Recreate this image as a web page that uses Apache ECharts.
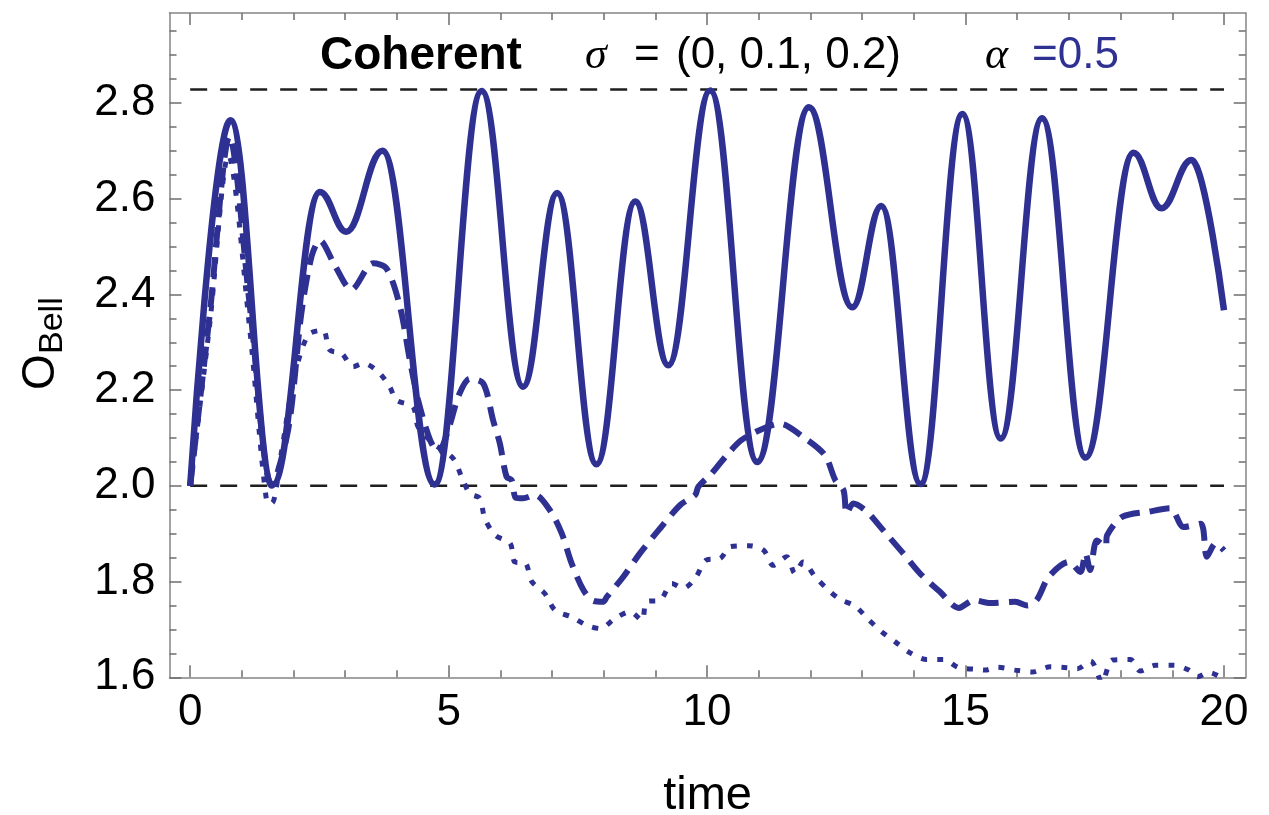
<!DOCTYPE html>
<html><head><meta charset="utf-8">
<script src="https://cdn.jsdelivr.net/npm/echarts@6/dist/echarts.min.js"></script>
<style>html,body{margin:0;padding:0;background:#fff}#c{width:1269px;height:815px}</style>
</head><body><div id="c"></div>
<script>
// ---- data ----
// sigma = 0 : turning points of the solid curve
const tSolid = [0,0.78,1.60,2.51,3.02,3.72,4.73,5.64,6.44,7.10,7.86,8.61,9.25,10.06,10.97,11.97,12.81,13.37,14.13,14.94,15.68,16.48,17.32,18.25,18.79,19.37,20.0];
const vSolid = [2.0,2.764,2.003,2.614,2.531,2.700,2.003,2.825,2.207,2.612,2.045,2.594,2.252,2.826,2.050,2.791,2.373,2.585,2.004,2.777,2.099,2.768,2.059,2.696,2.58,2.681,2.367];

// sigma = 0.1 : dashed curve
const tDash = [0,0.38,0.76,1.17,1.58,1.90,2.15,2.35,2.51,2.80,3.12,3.54,3.80,4.06,4.25,4.41,4.64,4.80,5.00,5.20,5.41,5.67,5.86,5.99,6.12,6.22,6.30,6.44,6.67,6.96,7.19,7.38,7.61,7.80,7.99,8.06,8.38,8.70,9.09,9.48,9.77,9.83,10.09,10.38,10.67,11.09,11.41,11.86,12.28,12.48,12.64,12.70,12.83,13.09,13.41,13.77,14.12,14.51,14.87,15.16,15.48,15.96,16.20,16.38,16.61,17.00,17.22,17.32,17.41,17.54,17.71,17.74,18.03,18.54,18.96,19.22,19.55,19.67,19.84,20.0];
const vDash = [2.0,2.36,2.73,2.36,2.0,2.12,2.36,2.48,2.513,2.46,2.41,2.465,2.454,2.374,2.263,2.179,2.096,2.07,2.12,2.19,2.224,2.214,2.137,2.089,2.019,2.012,1.975,1.974,1.981,1.949,1.90,1.838,1.782,1.76,1.758,1.768,1.81,1.859,1.911,1.96,1.981,1.998,2.026,2.064,2.096,2.12,2.13,2.102,2.064,2.012,1.991,1.942,1.963,1.946,1.907,1.862,1.817,1.778,1.745,1.761,1.755,1.758,1.75,1.762,1.81,1.841,1.82,1.859,1.824,1.886,1.873,1.897,1.935,1.946,1.953,1.914,1.921,1.852,1.88,1.865];

// sigma = 0.2 : dotted curve
const tDot = [0,0.38,0.74,1.15,1.48,1.58,1.75,2.0,2.28,2.57,2.70,2.93,3.15,3.35,3.64,3.86,3.99,4.31,4.41,4.70,5.09,5.25,5.41,5.60,5.70,5.90,6.19,6.28,6.48,6.61,6.86,7.06,7.38,7.67,7.93,8.22,8.51,8.74,8.83,9.09,9.32,9.54,9.77,9.99,10.25,10.45,10.80,11.09,11.28,11.54,11.70,11.86,12.09,12.35,12.57,12.86,13.12,13.38,13.64,13.93,14.25,14.57,14.87,15.16,15.38,15.61,15.96,16.29,16.64,16.96,17.16,17.42,17.64,17.84,18.19,18.38,18.67,19.03,19.32,19.49,19.70,19.87,20.0];
const vDot = [2.0,2.34,2.69,2.33,1.967,1.964,2.06,2.22,2.315,2.325,2.284,2.277,2.249,2.256,2.238,2.207,2.179,2.165,2.123,2.089,2.057,2.019,1.984,1.974,1.932,1.897,1.88,1.841,1.839,1.80,1.775,1.74,1.726,1.709,1.702,1.723,1.737,1.719,1.758,1.761,1.796,1.786,1.807,1.845,1.848,1.873,1.875,1.866,1.834,1.852,1.817,1.841,1.81,1.782,1.763,1.749,1.721,1.695,1.674,1.651,1.637,1.637,1.62,1.617,1.615,1.621,1.615,1.611,1.622,1.62,1.618,1.634,1.59,1.636,1.637,1.613,1.625,1.625,1.615,1.601,1.61,1.604,1.595];

const refLevels = [2.0, 2.8284];
const refRange = [0, 20];

const xMajorTicks = [0, 5, 10, 15, 20];
const xMinorTicks = [1,2,3,4,6,7,8,9,11,12,13,14,16,17,18,19];
const yMajorTicks = [1.6, 1.8, 2.0, 2.2, 2.4, 2.6, 2.8];
const yMinorTicks = [1.65,1.7,1.75,1.85,1.9,1.95,2.05,2.1,2.15,2.25,2.3,2.35,2.45,2.5,2.55,2.65,2.7,2.75,2.85,2.9,2.95];

const X_MIN = -0.4, X_MAX = 20.42, Y_MIN = 1.6, Y_MAX = 2.988;

// ---- chart ----
const BLUE = '#2E3192';
const FONT = '"Liberation Sans", Arial, sans-serif';
const SERIF = '"Liberation Serif", "DejaVu Serif", serif';
const tickColor = '#6e6e6e';
const lineColor = '#858585';

function pairs(t, v) { return t.map((x, i) => [x, v[i]]); }

function xAx(pos, ticks, len, main) {
  const a = {
    type: 'value', position: pos, min: X_MIN, max: X_MAX,
    axisLine: { show: main, onZero: false, lineStyle: { color: lineColor, width: 1.5 } },
    axisTick: { show: true, inside: true, length: len, customValues: ticks, lineStyle: { color: tickColor, width: 1.5 } },
    axisLabel: { show: false },
    splitLine: { show: false }
  };
  if (main && pos === 'bottom') {
    a.axisLabel = { show: true, customValues: xMajorTicks, margin: 14, fontSize: 44, fontFamily: FONT, color: '#000', formatter: v => String(v) };
    a.name = 'time'; a.nameLocation = 'middle'; a.nameGap = 95;
    a.nameTextStyle = { fontSize: 47, fontFamily: FONT, color: '#000' };
  }
  return a;
}
function yAx(pos, ticks, len, main) {
  const a = {
    type: 'value', position: pos, min: Y_MIN, max: Y_MAX,
    axisLine: { show: main, onZero: false, lineStyle: { color: lineColor, width: 1.5 } },
    axisTick: { show: true, inside: true, length: len, customValues: ticks, lineStyle: { color: tickColor, width: 1.5 } },
    axisLabel: { show: false },
    splitLine: { show: false }
  };
  if (main && pos === 'left') {
    a.axisLabel = { show: true, customValues: yMajorTicks, margin: 14, fontSize: 44, fontFamily: FONT, color: '#000', formatter: v => v.toFixed(1) };
  }
  return a;
}

const chart = echarts.init(document.getElementById('c'), null, { renderer: 'canvas' });
const refSeries = refLevels.map(lv => ({
  type: 'line', xAxisIndex: 0, yAxisIndex: 0, silent: true, symbol: 'none', z: 1,
  data: refRange.map(x => [x, lv]),
  lineStyle: { color: '#1e1e1e', width: 2.5, type: [17, 13] }
}));

chart.setOption({
  animation: false,
  backgroundColor: '#fff',
  grid: { left: 169.5, right: 23.3, top: 13, bottom: 137.7, containLabel: false, outerBoundsMode: 'none' },
  xAxis: [
    xAx('bottom', xMajorTicks, 12, true),
    xAx('bottom', xMinorTicks, 7, false),
    xAx('top', xMajorTicks, 12, true),
    xAx('top', xMinorTicks, 7, false)
  ],
  yAxis: [
    yAx('left', yMajorTicks, 12, true),
    yAx('left', yMinorTicks, 7, false),
    yAx('right', yMajorTicks, 12, true),
    yAx('right', yMinorTicks, 7, false)
  ],
  series: refSeries.concat([
    { type: 'line', name: 'sigma0', xAxisIndex: 0, yAxisIndex: 0, symbol: 'none', smooth: 0.4, smoothMonotone: 'x', z: 3,
      data: pairs(tSolid, vSolid), lineStyle: { color: BLUE, width: 6.5 } },
    { type: 'line', name: 'sigma0.1', xAxisIndex: 0, yAxisIndex: 0, symbol: 'none', smooth: 0.3, z: 3,
      data: pairs(tDash, vDash), lineStyle: { color: BLUE, width: 6, type: [20, 10] } },
    { type: 'line', name: 'sigma0.2', xAxisIndex: 0, yAxisIndex: 0, symbol: 'none', smooth: 0.3, z: 3,
      data: pairs(tDot, vDot), lineStyle: { color: BLUE, width: 5, type: [6, 10] } }
  ]),
  graphic: [
    { type: 'text', x: 320, y: 56, style: { text: 'Coherent', font: 'bold 46px ' + FONT, fill: '#000', textAlign: 'left', verticalAlign: 'middle', textVerticalAlign: 'middle' } },
    { type: 'text', x: 585, y: 56, style: { text: 'σ', font: 'italic 44px ' + SERIF, fill: '#000', textAlign: 'left', verticalAlign: 'middle', textVerticalAlign: 'middle' } },
    { type: 'text', x: 634, y: 56, style: { text: '=', font: '44px ' + FONT, fill: '#000', textAlign: 'left', verticalAlign: 'middle', textVerticalAlign: 'middle' } },
    { type: 'text', x: 676, y: 56, style: { text: '(0, 0.1, 0.2)', font: '44px ' + FONT, fill: '#000', textAlign: 'left', verticalAlign: 'middle', textVerticalAlign: 'middle' } },
    { type: 'text', x: 985, y: 56, style: { text: 'α', font: 'italic 44px ' + SERIF, fill: '#000', textAlign: 'left', verticalAlign: 'middle', textVerticalAlign: 'middle' } },
    { type: 'text', x: 1032, y: 56, style: { text: '=0.5', font: '44px ' + FONT, fill: BLUE, textAlign: 'left', verticalAlign: 'middle', textVerticalAlign: 'middle' } },
    { type: 'text', x: 41, y: 390, rotation: Math.PI / 2, style: { text: 'O', font: '46px ' + FONT, fill: '#000', textAlign: 'left', verticalAlign: 'middle', textVerticalAlign: 'middle' } },
    { type: 'text', x: 53, y: 354, rotation: Math.PI / 2, style: { text: 'Bell', font: '34px ' + FONT, fill: '#000', textAlign: 'left', verticalAlign: 'middle', textVerticalAlign: 'middle' } }
  ]
});
</script></body></html>
